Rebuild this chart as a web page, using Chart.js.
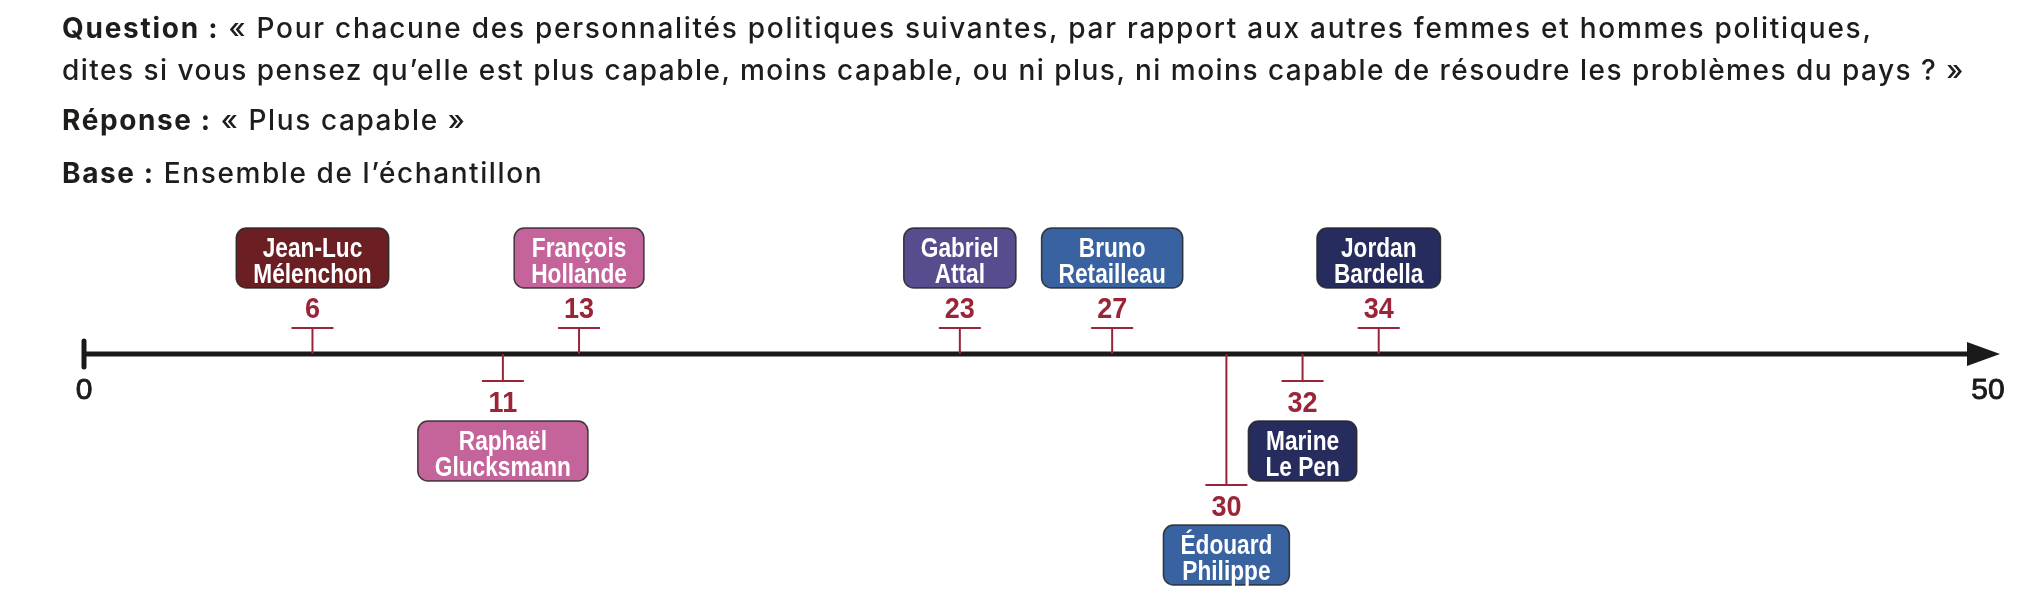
<!DOCTYPE html>
<html lang="fr">
<head>
<meta charset="utf-8">
<script src="https://cdn.jsdelivr.net/npm/chart.js@4.4.1/dist/chart.umd.min.js"></script>
<style>
  html, body { margin: 0; padding: 0; background: #fff; }
  #wrap { position: relative; width: 2038px; height: 614px; }
  #chart { position: absolute; left: 0; top: 0; }
  .note {
    position: absolute; left: 62px;
    font-family: Inter, "Open Sans", sans-serif; font-size: 28px; font-weight: 500;
    letter-spacing: 1.6px; line-height: 28px; color: #1d1d1b; white-space: nowrap;
  }
  .note b { font-weight: 700; }
</style>
</head>
<body>
<div id="wrap">
  <canvas id="chart" width="2038" height="614"></canvas>
  <div class="note" id="q1" style="top:14px"><b>Question&nbsp;:</b> «&nbsp;Pour chacune des personnalités politiques suivantes, par rapport aux autres femmes et hommes politiques,</div>
  <div class="note" id="q2" style="top:56px">dites si vous pensez qu’elle est plus capable, moins capable, ou ni plus, ni moins capable de résoudre les problèmes du pays&nbsp;?&nbsp;»</div>
  <div class="note" style="top:106px"><b>Réponse&nbsp;:</b> «&nbsp;Plus capable&nbsp;»</div>
  <div class="note" style="top:159px"><b>Base&nbsp;:</b> Ensemble de l’échantillon</div>
</div>
<script>
// data
var names = ["Jean-Luc\nMélenchon", "Raphaël\nGlucksmann", "François\nHollande", "Gabriel\nAttal",
             "Bruno\nRetailleau", "Édouard\nPhilippe", "Marine\nLe Pen", "Jordan\nBardella"];
var values = [6, 11, 13, 23, 27, 30, 32, 34];
var axisMin = 0;
var axisMax = 50;
var tickValues = [0, 50];

// styling / layout, kept apart from the data
var boxColors = ["#6b1f22", "#c4649a", "#c4649a", "#564c8e", "#3862a0", "#3862a0", "#262c5e", "#262c5e"];
var levels = [-1, 1, -1, -1, -1, 2, 1, -1];   // -1 above the axis, 1 / 2 below
var red = "#9b2538";
var sansFont = "'Liberation Sans', Arial, sans-serif";

// stretch the two question lines to the width they have in the original
function fitLine(id, width) {
    var el = document.getElementById(id);
    el.style.letterSpacing = "0px";
    var n = el.textContent.length;
    var extra = (width - el.getBoundingClientRect().width) / n;
    el.style.letterSpacing = extra.toFixed(2) + "px";
}
fitLine("q1", 1811);
fitLine("q2", 1903);

function roundRect(ctx, x, y, w, h, r) {
    ctx.beginPath();
    ctx.moveTo(x + r, y);
    ctx.lineTo(x + w - r, y);
    ctx.arcTo(x + w, y, x + w, y + r, r);
    ctx.lineTo(x + w, y + h - r);
    ctx.arcTo(x + w, y + h, x + w - r, y + h, r);
    ctx.lineTo(x + r, y + h);
    ctx.arcTo(x, y + h, x, y + h - r, r);
    ctx.lineTo(x, y + r);
    ctx.arcTo(x, y, x + r, y, r);
    ctx.closePath();
}

// condensed text: squeeze a normal face horizontally
function narrowText(ctx, txt, x, y, sx) {
    ctx.save();
    ctx.translate(x, y);
    ctx.scale(sx, 1);
    ctx.fillText(txt, 0, 0);
    ctx.restore();
}

var timeline = {
    id: "timeline",
    afterDatasetsDraw: function(chart) {
        var ctx = chart.ctx;
        var xs = chart.scales.x;
        var y0 = chart.scales.y.getPixelForValue(0);
        var left = xs.getPixelForValue(axisMin);
        var right = xs.getPixelForValue(axisMax);

        ctx.save();
        // axis
        ctx.strokeStyle = "#1a1a1a";
        ctx.fillStyle = "#1a1a1a";
        ctx.lineWidth = 5;
        ctx.beginPath();
        ctx.moveTo(left, y0);
        ctx.lineTo(right - 20, y0);
        ctx.stroke();
        ctx.lineCap = "round";
        ctx.beginPath();
        ctx.moveTo(left, y0 - 13);
        ctx.lineTo(left, y0 + 13);
        ctx.stroke();
        ctx.beginPath();
        ctx.moveTo(right - 21, y0 - 12);
        ctx.lineTo(right + 12, y0);
        ctx.lineTo(right - 21, y0 + 12);
        ctx.closePath();
        ctx.fill();

        ctx.font = "30px " + sansFont;
        ctx.textAlign = "center";
        ctx.textBaseline = "middle";
        ctx.lineWidth = 0.9;
        ctx.lineCap = "butt";
        for (var t = 0; t < tickValues.length; t++) {
            var tx = xs.getPixelForValue(tickValues[t]);
            ctx.fillText(String(tickValues[t]), tx, y0 + 37);
            ctx.strokeText(String(tickValues[t]), tx, y0 + 37);
        }

        // markers
        var pts = chart.getDatasetMeta(0).data;
        for (var i = 0; i < pts.length; i++) {
            var x = pts[i].x;
            var lv = levels[i];
            var capY, labelY, boxTop;
            if (lv < 0) {
                capY = y0 - 26; labelY = capY - 19; boxTop = capY - 100;
            } else {
                capY = y0 + 27 + (lv - 1) * 104; labelY = capY + 22; boxTop = capY + 40;
            }
            ctx.strokeStyle = red;
            ctx.lineWidth = 2;
            ctx.beginPath();
            ctx.moveTo(x, y0);
            ctx.lineTo(x, capY);
            ctx.moveTo(x - 21, capY);
            ctx.lineTo(x + 21, capY);
            ctx.stroke();

            ctx.fillStyle = red;
            ctx.font = "bold 30px " + sansFont;
            ctx.textBaseline = "middle";
            narrowText(ctx, String(values[i]), x, labelY + 1, 0.9);

            var lines = names[i].split("\n");
            var sx = 0.84;
            ctx.font = "bold 27px " + sansFont;
            var w = 0;
            for (var k = 0; k < lines.length; k++) w = Math.max(w, ctx.measureText(lines[k]).width * sx);
            var bw = w + 34;
            roundRect(ctx, x - bw / 2, boxTop, bw, 60, 10);
            ctx.fillStyle = boxColors[i];
            ctx.fill();
            ctx.strokeStyle = "rgba(35,35,35,0.85)";
            ctx.lineWidth = 1.5;
            ctx.stroke();
            ctx.fillStyle = "#ffffff";
            ctx.textBaseline = "alphabetic";
            narrowText(ctx, lines[0], x, boxTop + 29, sx);
            narrowText(ctx, lines[1], x, boxTop + 55, sx);
        }
        ctx.restore();
    }
};

var points = [];
for (var i = 0; i < values.length; i++) points.push({x: values[i], y: 0});

var chart = new Chart("chart", {
    type: "scatter",
    data: {
        datasets: [{ data: points, pointRadius: 0, pointHoverRadius: 0 }]
    },
    options: {
        responsive: false,
        animation: false,
        devicePixelRatio: 1,
        layout: { padding: { left: 84, right: 50, top: 300, bottom: 206 } },
        plugins: { legend: { display: false }, tooltip: { enabled: false } },
        scales: {
            x: { type: "linear", min: axisMin, max: axisMax, display: false },
            y: { type: "linear", min: -1, max: 1, display: false }
        }
    },
    plugins: [timeline]
});
</script>
</body>
</html>
